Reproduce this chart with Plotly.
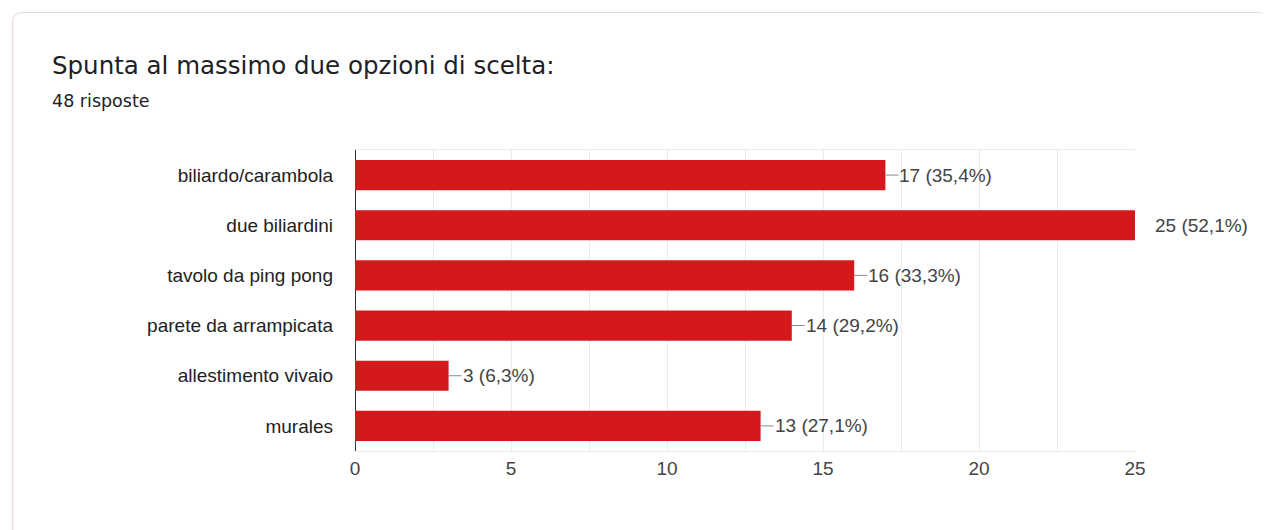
import plotly.graph_objects as go

categories = ["biliardo/carambola", "due biliardini", "tavolo da ping pong",
              "parete da arrampicata", "allestimento vivaio", "murales"]
counts = [17, 25, 16, 14, 3, 13]
pct_labels = ["35,4%", "52,1%", "33,3%", "29,2%", "6,3%", "27,1%"]
x_ticks = [0, 5, 10, 15, 20, 25]
title_text = "Spunta al massimo due opzioni di scelta:"
subtitle_text = "48 risposte"

OFF = 8  # page body margin
W, H = 1262, 522
L, T = 355 - OFF, 150 - OFF
pw, ph = 780, 301
R = W - L - pw
B = H - T - ph

def px_x(p):
    return (p - OFF - L) / pw

def px_y(p):
    return (H - B - (p - OFF)) / ph

FONT = "Liberation Sans, Arial, sans-serif"
XMAX = 25
FS = 19

fig = go.Figure()
fig.add_trace(go.Bar(
    x=counts, y=categories, orientation="h",
    marker=dict(color="#d4191c", line=dict(width=0)),
    width=0.6, hoverinfo="skip",
))

annotations = []
for c, v, p in zip(categories, counts, pct_labels):
    txt = f"{v} ({p})"
    if v >= XMAX:
        annotations.append(dict(x=v, y=c, xref="x", yref="y", text=txt,
                                showarrow=False, xanchor="left", xshift=18,
                                font=dict(family=FONT, size=FS, color="#444444")))
    else:
        annotations.append(dict(x=v, y=c, xref="x", yref="y", text=txt,
                                showarrow=True, arrowhead=0, arrowwidth=1,
                                arrowcolor="#8a8a8a", ax=13, ay=0,
                                xanchor="left", borderpad=0, standoff=0,
                                font=dict(family=FONT, size=FS, color="#444444")))

annotations.append(dict(x=px_x(50), y=px_y(65), xref="paper", yref="paper",
                        text=title_text, showarrow=False, xanchor="left", yanchor="middle",
                        font=dict(family="DejaVu Sans, sans-serif", size=24.5, color="#202124")))
annotations.append(dict(x=px_x(50), y=px_y(101), xref="paper", yref="paper",
                        text=subtitle_text, showarrow=False, xanchor="left", yanchor="middle",
                        font=dict(family="DejaVu Sans, sans-serif", size=17.5, color="#202124")))

# card outline
r = 10
x0, y0, x1, y1 = 12.5, 12.5, 1267.5, 560
path = (f"M {px_x(x0)} {px_y(y1)} L {px_x(x0)} {px_y(y0 + r)} "
        f"Q {px_x(x0)} {px_y(y0)} {px_x(x0 + r)} {px_y(y0)} "
        f"L {px_x(x1 - r)} {px_y(y0)} Q {px_x(x1)} {px_y(y0)} {px_x(x1)} {px_y(y0 + r)} "
        f"L {px_x(x1)} {px_y(y1)}")
shapes = [dict(type="path", xref="paper", yref="paper", path=path,
               line=dict(color="#dadce0", width=1), layer="below"),
          dict(type="line", xref="paper", yref="paper",
               x0=px_x(x0), x1=px_x(x0), y0=px_y(y0 + r), y1=px_y(y1),
               line=dict(color="#f0dde1", width=1.5), layer="below")]

fig.update_layout(
    width=W, height=H,
    margin=dict(l=L, r=R, t=T, b=B, pad=0),
    paper_bgcolor="white", plot_bgcolor="white",
    showlegend=False, bargap=0.4,
    annotations=annotations, shapes=shapes,
    xaxis=dict(range=[0, XMAX], tickvals=x_ticks, ticktext=[str(t) for t in x_ticks],
               showgrid=True, gridcolor="#ebebeb", gridwidth=1,
               minor=dict(dtick=2.5, tick0=0, showgrid=True, gridcolor="#ebebeb", gridwidth=1),
               zeroline=True, zerolinecolor="#333333", zerolinewidth=1,
               showline=True, mirror=True, linecolor="#ebebeb", linewidth=1,
               ticks="", ticklabelstandoff=0,
               tickfont=dict(family=FONT, size=FS, color="#444444"), fixedrange=True),
    yaxis=dict(categoryorder="array", categoryarray=categories, autorange="reversed",
               showgrid=False, zeroline=False, showline=False, ticks="",
               ticklabelstandoff=21,
               tickfont=dict(family=FONT, size=FS, color="#222222"), fixedrange=True),
)

fig.write_html("out.html")
